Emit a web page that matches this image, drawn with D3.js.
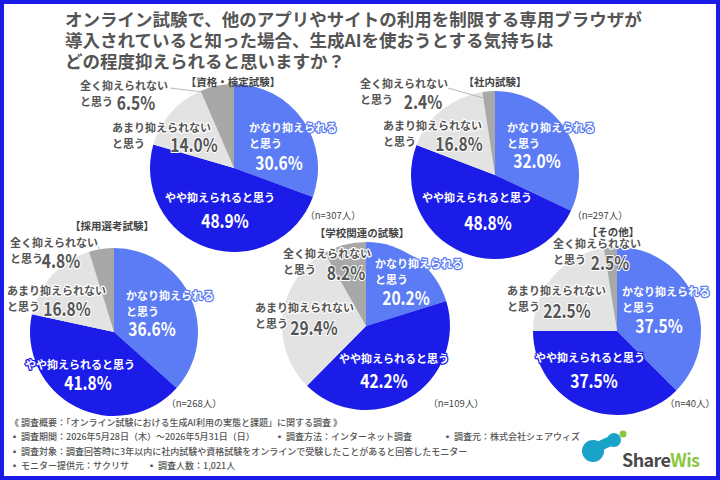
<!DOCTYPE html>
<html>
<head>
<meta charset="utf-8">
<script src="https://cdn.jsdelivr.net/npm/d3@7"></script>
<style>
  body { margin: 0; background: #fff; }
  svg text { font-family: "Noto Sans CJK JP", "Noto Sans", sans-serif; }
</style>
</head>
<body>
<div id="chart"></div>
<script>
// chart data
var groups = ["資格・検定試験", "社内試験", "採用選考試験", "学校関連の試験", "その他"];
var sampleSizes = [307, 297, 268, 109, 40];
var answers = ["かなり抑えられると思う", "やや抑えられると思う", "あまり抑えられないと思う", "全く抑えられないと思う"];
var shares = [
  [30.6, 48.9, 14.0, 6.5],
  [32.0, 48.8, 16.8, 2.4],
  [36.6, 41.8, 16.8, 4.8],
  [20.2, 42.2, 29.4, 8.2],
  [37.5, 37.5, 22.5, 2.5]
];
var titleLines = [
  "オンライン試験で、他のアプリやサイトの利用を制限する専用ブラウザが",
  "導入されていると知った場合、生成AIを使おうとする気持ちは",
  "どの程度抑えられると思いますか？"
];
var footnotes = [
  [["《 調査概要：「オンライン試験における生成AI利用の実態と課題」に関する調査 》", 0]],
  [["▪ 調査期間：2026年5月28日（木）～2026年5月31日（日）", 0], ["▪ 調査方法：インターネット調査", 265], ["▪ 調査元：株式会社シェアウィズ", 433]],
  [["▪ 調査対象：調査回答時に3年以内に社内試験や資格試験をオンラインで受験したことがあると回答したモニター", 0]],
  [["▪ モニター提供元：サクリサ", 0], ["▪ 調査人数：1,021人", 137]]
];

// layout (offsets from each pie centre): t = answer text, p = percent
var pieLayout = [
  {cx: 234, cy: 168, title: [-1, -87], n: [99, 47], leader: [-64, -80],
   t: [[15, -41], [-14, 29], [-122, -41], [-154, -83]],
   p: [[45, -6], [-9, 52], [-40, -24], [-98, -66]]},
  {cx: 495, cy: 175, title: [0, -94], n: [105, 40], leader: [-47, -87],
   t: [[12, -48], [-18, 22], [-112, -50], [-135, -92]],
   p: [[42, -15], [-7, 47], [-36, -32], [-72, -74]]},
  {cx: 114, cy: 332, title: [-2, -107], n: [80, 71], leader: [-16, -86],
   t: [[12, -37], [-34, 32], [-107, -42], [-104, -90]],
   p: [[38, -4], [-26, 50], [-47, -24], [-53, -72]]},
  {cx: 366, cy: 326, title: [-4, -94], n: [90, 77], leader: null,
   t: [[9, -63], [28, 32], [-111, -19], [-83, -73]],
   p: [[40, -29], [18, 54], [-52, 1], [-20, -54]]},
  {cx: 617, cy: 331, title: [-4, -100], n: [73, 72], leader: null,
   t: [[5, -40], [-27, 26], [-110, -41], [-64, -88]],
   p: [[42, -6], [-23, 49], [-50, -21], [-7, -69]]}
];

var width = 720, height = 480, radius = 84;
var colors = ["#5b7cf4", "#1c1ce9", "#e3e3e3", "#a8a8a8"];
var ink = ["#fff", "#fff", "#555", "#555"];
var halo = ["#5b7cf4", "#1c1ce9", "#fff", "#fff"];

var svg = d3.select("#chart")
  .append("svg")
    .attr("width", width)
    .attr("height", height);

svg.append("rect")
  .attr("width", width)
  .attr("height", height)
  .attr("fill", "#fff")
  .attr("stroke", "#1c1ce9")
  .attr("stroke-width", 8);

// title
svg.append("g").selectAll("text")
  .data(titleLines)
  .enter().append("text")
    .attr("x", 65)
    .attr("y", function(d, i) { return 26 + i * 21; })
    .attr("font-size", 17.5)
    .attr("font-weight", 700)
    .attr("fill", "#555")
    .text(function(d) { return d; });

var pie = d3.pie().sort(null).value(function(d) { return d; });
var arc = d3.arc().innerRadius(0).outerRadius(radius);
var edgeArc = d3.arc().innerRadius(radius * 0.9).outerRadius(radius * 0.9);

groups.forEach(function(name, gi) {
  var L = pieLayout[gi];
  var g = svg.append("g")
    .attr("transform", "translate(" + L.cx + "," + L.cy + ")");

  var slices = pie(shares[gi]);

  g.selectAll("path")
    .data(slices)
    .enter().append("path")
      .attr("d", arc)
      .attr("fill", function(d, i) { return colors[i]; });

  // leader for the smallest slice
  if (L.leader) {
    var end = edgeArc.centroid(slices[3]);
    g.append("line")
      .attr("x1", L.leader[0]).attr("y1", L.leader[1])
      .attr("x2", end[0]).attr("y2", end[1])
      .attr("stroke", "#aaa")
      .attr("stroke-width", 0.8);
  }

  // answer labels
  slices.forEach(function(d, i) {
    var text = answers[i];
    var lines = i === 1 ? [text] : [text.replace(/と思う$/, ""), "と思う"];
    var t = g.append("text")
      .attr("font-size", 11)
      .attr("font-weight", 700)
      .attr("fill", ink[i])
      .attr("stroke", halo[i])
      .attr("stroke-width", 2.5)
      .attr("stroke-linejoin", "round")
      .attr("paint-order", "stroke")
      .attr("dominant-baseline", "central")
      .attr("text-anchor", i === 1 ? "middle" : "start");
    lines.forEach(function(line, li) {
      t.append("tspan")
        .attr("x", L.t[i][0])
        .attr("y", L.t[i][1] + li * 15.5)
        .text(line);
    });

    g.append("g")
      .attr("transform", "translate(" + L.p[i][0] + "," + L.p[i][1] + ") scale(0.82,1)")
      .append("text")
        .attr("text-anchor", "middle")
        .attr("dominant-baseline", "central")
        .attr("font-family", "Roboto, sans-serif")
        .attr("font-size", 19)
        .attr("font-weight", 700)
        .attr("fill", ink[i])
        .attr("stroke", halo[i])
        .attr("stroke-width", i < 2 ? 0 : 2)
        .attr("paint-order", "stroke")
        .text(d.data.toFixed(1) + "%");
  });

  g.append("text")
    .attr("x", L.title[0])
    .attr("y", L.title[1])
    .attr("text-anchor", "middle")
    .attr("dominant-baseline", "central")
    .attr("font-size", 10.5)
    .attr("font-weight", 700)
    .attr("fill", "#444")
    .text("【" + name + "】");

  g.append("text")
    .attr("x", L.n[0])
    .attr("y", L.n[1])
    .attr("text-anchor", "middle")
    .attr("dominant-baseline", "central")
    .attr("font-size", 9.5)
    .attr("fill", "#444")
    .text("（n=" + sampleSizes[gi] + "人）");
});

// survey notes
footnotes.forEach(function(row, ri) {
  row.forEach(function(cell) {
    svg.append("text")
      .attr("x", 10 + cell[1])
      .attr("y", 422 + ri * 14.5)
      .attr("dominant-baseline", "central")
      .attr("font-size", 9)
      .attr("font-weight", 500)
      .attr("fill", "#555")
      .text(cell[0]);
  });
});

// ShareWis logo
var logo = svg.append("g").attr("transform", "translate(580,430)");
logo.append("line")
  .attr("x1", 13).attr("y1", 19).attr("x2", 33).attr("y2", 10)
  .attr("stroke", "#1aa3c8").attr("stroke-width", 10).attr("stroke-linecap", "round");
logo.append("circle").attr("cx", 13).attr("cy", 21).attr("r", 11).attr("fill", "#1aa3c8");
logo.append("circle").attr("cx", 34).attr("cy", 10).attr("r", 7).attr("fill", "#1aa3c8");
logo.append("circle").attr("cx", 43).attr("cy", 4).attr("r", 3.5).attr("fill", "#8cc63f");
var word = logo.append("text")
  .attr("x", 42).attr("y", 37)
  .attr("font-family", "'Open Sans', sans-serif")
  .attr("font-size", 18)
  .attr("font-weight", 700)
  .attr("letter-spacing", -0.6);
word.append("tspan").attr("fill", "#4a4a4a").text("Share");
word.append("tspan").attr("fill", "#8cc63f").text("Wis");
</script>
</body>
</html>
